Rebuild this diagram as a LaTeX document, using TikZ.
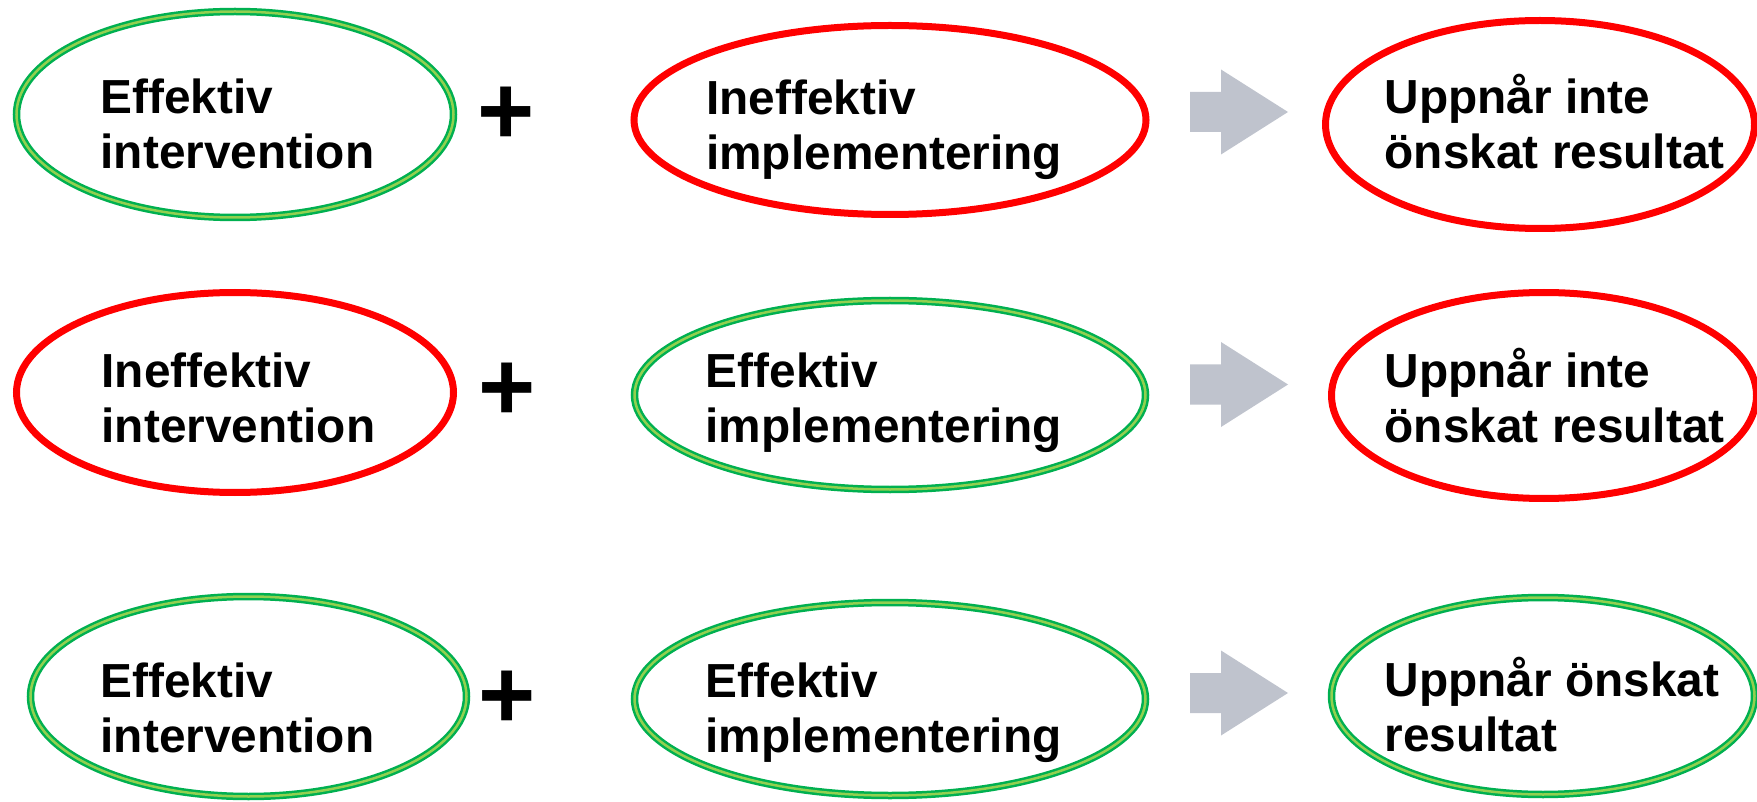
\documentclass[tikz,border=0pt]{standalone}
\usepackage{fontspec}
\setmainfont{Liberation Sans}
\usetikzlibrary{shapes.geometric}
\definecolor{okdark}{RGB}{0,176,80}
\definecolor{oklight}{RGB}{146,208,80}
\definecolor{badred}{RGB}{255,0,0}
\definecolor{arrowgray}{RGB}{191,195,205}
\tikzset{
  good/.style={ellipse, draw=okdark, double=oklight, line width=2.5pt, double distance=2.5pt, inner sep=0pt},
  bad/.style={ellipse, draw=badred, line width=7pt, inner sep=0pt},
  lbl/.style={anchor=north west, align=left, inner sep=0pt, font=\bfseries\fontsize{47.8}{55}\selectfont},
  plussign/.style={inner sep=0pt, font=\bfseries\fontsize{98}{98}\selectfont},
  blockarrow/.pic={\fill[arrowgray] (0,-20) -- (31,-20) -- (31,-42.5) -- (98,0) -- (31,42.5) -- (31,20) -- (0,20) -- cycle;}
}
\begin{document}
\begin{tikzpicture}[x=1pt,y=-1pt]
\useasboundingbox (0,0) rectangle (1757,802);
% row 1
\node[good, minimum width=437pt, minimum height=206pt] (e11) at (235,114.5) {};
\node[bad, minimum width=512pt, minimum height=189pt] (e12) at (890,120) {};
\node[bad, minimum width=429pt, minimum height=208pt] (e13) at (1540,124.5) {};
\node[lbl] (t11) at (100.5,73.5) {\rule{0pt}{40pt}Effektiv\\intervention};
\node[lbl] (t12) at (706,74) {\rule{0pt}{40pt}Ineffektiv\\implementering};
\node[lbl] (t13) at (1384.5,73.5) {\rule{0pt}{40pt}Uppnår inte\\önskat resultat};
\node[plussign] (p1) at (506.5,116) {+};
\pic at (1190,112) {blockarrow};
% row 2
\node[bad, minimum width=437pt, minimum height=200pt] (e21) at (235,392.5) {};
\node[good, minimum width=511pt, minimum height=189pt] (e22) at (890,395) {};
\node[bad, minimum width=425pt, minimum height=206pt] (e23) at (1544,395.5) {};
\node[lbl] (t21) at (101.5,347) {\rule{0pt}{40pt}Ineffektiv\\intervention};
\node[lbl] (t22) at (705.5,347) {\rule{0pt}{40pt}Effektiv\\implementering};
\node[lbl] (t23) at (1384.5,347) {\rule{0pt}{40pt}Uppnår inte\\önskat resultat};
\node[plussign] (p2) at (507.5,392) {+};
\pic at (1190,384.5) {blockarrow};
% row 3
\node[good, minimum width=436pt, minimum height=200pt] (e31) at (248.5,696.5) {};
\node[good, minimum width=511pt, minimum height=193pt] (e32) at (890,699) {};
\node[good, minimum width=423pt, minimum height=197pt] (e33) at (1543,696) {};
\node[lbl] (t31) at (100.5,657) {\rule{0pt}{40pt}Effektiv\\intervention};
\node[lbl] (t32) at (705.5,657) {\rule{0pt}{40pt}Effektiv\\implementering};
\node[lbl] (t33) at (1384.5,656) {\rule{0pt}{40pt}Uppnår önskat\\resultat};
\node[plussign] (p3) at (507.5,700) {+};
\pic at (1190,693) {blockarrow};
\end{tikzpicture}
\end{document}
